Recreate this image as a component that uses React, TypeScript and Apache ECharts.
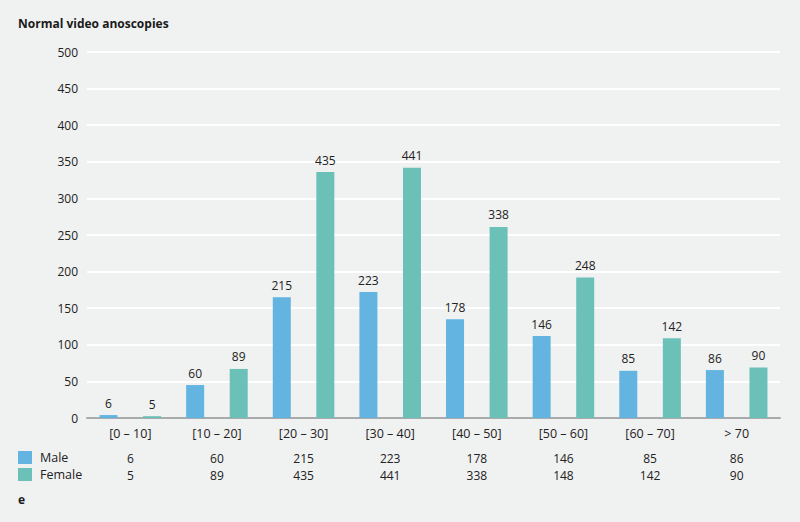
import React, { useEffect, useRef } from "react";
import * as echarts from "echarts";

const categories = ["[0 – 10]", "[10 – 20]", "[20 – 30]", "[30 – 40]", "[40 – 50]", "[50 – 60]", "[60 – 70]", "> 70"];
// Values printed in the chart (labels and table)
const maleLabels = [6, 60, 215, 223, 178, 146, 85, 86];
const femaleLabels = [5, 89, 435, 441, 338, 148, 142, 90];
const femaleBarLabels = [5, 89, 435, 441, 338, 248, 142, 90];
// Bar heights as drawn in the picture (read against the y-axis)
const maleBars = [4, 45, 165, 172, 135, 112, 64.5, 65.5];
const femaleBars = [2.5, 67, 336, 342, 261, 192, 109, 69];
const yTicks = { min: 0, max: 500, interval: 50 };

const FONT = "'Open Sans', 'Noto Sans', sans-serif";
const BLUE = "#63b4e1";
const TEAL = "#6bc0b8";

export default function App() {
  const ref = useRef<HTMLDivElement>(null);
  useEffect(() => {
    document.body.style.margin = "0";
    const chart = echarts.init(ref.current!, null, { renderer: "svg" });
    const tableAxis = (vals: number[], offset: number) => ({
      type: "category",
      data: categories,
      position: "bottom",
      offset,
      gridIndex: 0,
      axisLine: { show: false },
      axisTick: { show: false },
      splitLine: { show: false },
      axisLabel: {
        interval: 0,
        color: "#222",
        fontSize: 12,
        fontFamily: FONT,
        formatter: (_v: string, i: number) => String(vals[i]),
      },
    });
    chart.setOption({
      animation: false,
      backgroundColor: "#f0f1f1",
      textStyle: { fontFamily: FONT },
      title: {
        text: "Normal video anoscopies",
        left: 18,
        top: 17,
        padding: 0,
        textStyle: { fontSize: 12, fontWeight: "bold", color: "#1a1a1a", fontFamily: FONT },
      },
      legend: {
        data: ["Male", "Female"],
        orient: "vertical",
        left: 18,
        top: 451,
        padding: 0,
        itemWidth: 14,
        itemHeight: 13,
        itemGap: 4,
        icon: "rect",
        textStyle: { fontSize: 12.5, lineHeight: 13, color: "#222", fontFamily: FONT, padding: [0, 0, 0, 3] },
        selectedMode: false,
      },
      graphic: [
        {
          type: "text",
          left: 18,
          top: 493,
          style: { text: "e", fontSize: 12, fontWeight: "bold", fill: "#1a1a1a", fontFamily: FONT },
        },
      ],
      grid: { left: 87, right: 20, top: 52, bottom: 104 },
      xAxis: [
        {
          type: "category",
          data: categories,
          axisLine: { show: true, lineStyle: { color: "#a8aaab", width: 2 } },
          axisTick: { show: false },
          axisLabel: { interval: 0, color: "#222", fontSize: 12.5, fontFamily: FONT, margin: 9 },
        },
        tableAxis(maleLabels, 26),
        tableAxis(femaleLabels, 43),
      ],
      yAxis: {
        type: "value",
        min: yTicks.min,
        max: yTicks.max,
        interval: yTicks.interval,
        axisLine: { show: false },
        axisTick: { show: false },
        axisLabel: { color: "#222", fontSize: 12, fontFamily: FONT, margin: 9 },
        splitLine: { lineStyle: { color: "#ffffff", width: 2 } },
      },
      series: [
        {
          name: "Male",
          type: "bar",
          data: maleBars,
          barWidth: 18,
          barGap: "142%",
          itemStyle: { color: BLUE },
          label: {
            show: true,
            position: "top",
            distance: 6,
            color: "#222",
            fontSize: 12,
            fontFamily: FONT,
            formatter: (p: any) => String(maleLabels[p.dataIndex]),
          },
        },
        {
          name: "Female",
          type: "bar",
          data: femaleBars,
          barWidth: 18,
          itemStyle: { color: TEAL },
          label: {
            show: true,
            position: "top",
            distance: 6,
            color: "#222",
            fontSize: 12,
            fontFamily: FONT,
            formatter: (p: any) => String(femaleBarLabels[p.dataIndex]),
          },
        },
      ],
    });
    return () => chart.dispose();
  }, []);
  return <div ref={ref} style={{ width: 800, height: 522 }} />;
}
